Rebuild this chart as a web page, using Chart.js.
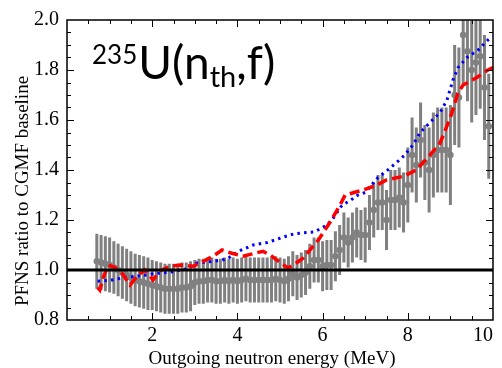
<!DOCTYPE html>
<html>
<head>
<meta charset="utf-8">
<script src="https://cdn.jsdelivr.net/npm/chart.js@4.4.0/dist/chart.umd.min.js"></script>
<style>
  body { margin: 0; background: #fff; }
  canvas { display: block; }
</style>
</head>
<body>
<canvas id="pfnsChart" width="502" height="368"></canvas>
<script>
// measured ratio (gray points with error bars)
const grayX = [0.7, 0.8, 0.9, 1.0, 1.1, 1.2, 1.3, 1.4, 1.5, 1.6, 1.7, 1.8, 1.9,
  2.0, 2.1, 2.2, 2.3, 2.4, 2.5, 2.6, 2.7, 2.8, 2.9,
  3.0, 3.1, 3.2, 3.3, 3.4, 3.5, 3.6, 3.7, 3.8, 3.9,
  4.0, 4.1, 4.2, 4.3, 4.4, 4.5, 4.6, 4.7, 4.8, 4.9,
  5.0, 5.1, 5.2, 5.3, 5.4, 5.5, 5.6, 5.7, 5.8, 5.9,
  6.0, 6.1, 6.2, 6.3, 6.4, 6.5, 6.6, 6.7, 6.8, 6.9,
  7.0, 7.1, 7.2, 7.3, 7.4, 7.5, 7.6, 7.7, 7.8, 7.9,
  8.0, 8.1, 8.2, 8.3, 8.4, 8.5, 8.6, 8.7, 8.8, 8.9,
  9.0, 9.1, 9.2, 9.3, 9.4, 9.5, 9.6, 9.7, 9.8, 9.9];
const grayY = [1.035, 1.03, 1.025, 1.02, 1.01, 1.0, 0.99, 0.98, 0.97, 0.96, 0.955, 0.95, 0.945,
  0.94, 0.935, 0.93, 0.925, 0.925, 0.925, 0.925, 0.93, 0.93, 0.935,
  0.95, 0.955, 0.955, 0.96, 0.96, 0.955, 0.955, 0.96, 0.955, 0.96,
  0.955, 0.96, 0.965, 0.96, 0.96, 0.96, 0.96, 0.96, 0.96, 0.965,
  0.96, 0.955, 0.965, 0.985, 0.97, 0.98, 0.99, 1.015, 1.04, 1.04,
  1.015, 1.02, 1.02, 1.055, 1.08, 1.13, 1.11, 1.13, 1.15, 1.14,
  1.14, 1.19, 1.24, 1.27, 1.27, 1.20, 1.28, 1.28, 1.29, 1.27,
  1.34, 1.46, 1.42, 1.52, 1.43, 1.40, 1.46, 1.48, 1.48, 1.48,
  1.46, 1.70, 1.69, 1.94, 1.875, 1.80, 1.83, 1.855, 1.73, 1.575];
const grayErr = [0.11, 0.11, 0.11, 0.11, 0.105, 0.105, 0.105, 0.105, 0.105, 0.105, 0.105, 0.105, 0.105,
  0.10, 0.10, 0.10, 0.10, 0.10, 0.10, 0.10, 0.10, 0.10, 0.10,
  0.09, 0.09, 0.09, 0.09, 0.09, 0.09, 0.09, 0.09, 0.09, 0.09,
  0.09, 0.09, 0.09, 0.09, 0.09, 0.09, 0.09, 0.09, 0.09, 0.09,
  0.09, 0.09, 0.09, 0.09, 0.09, 0.09, 0.09, 0.09, 0.09, 0.09,
  0.10, 0.10, 0.10, 0.10, 0.10, 0.10, 0.10, 0.10, 0.10, 0.10,
  0.11, 0.11, 0.11, 0.11, 0.11, 0.12, 0.12, 0.12, 0.12, 0.12,
  0.15, 0.15, 0.15, 0.15, 0.15, 0.17, 0.17, 0.17, 0.17, 0.17,
  0.20, 0.20, 0.20, 0.20, 0.20, 0.21, 0.21, 0.21, 0.21, 0.21];

// red dashed curve
const redX = [0.72, 0.77, 0.85, 0.97, 1.13, 1.3, 1.48, 1.67, 1.83, 2.02, 2.18, 2.42, 2.65, 2.96,
  3.2, 3.43, 3.64, 3.87, 4.13, 4.6, 4.77, 5.0, 5.19, 5.4, 5.54, 5.9, 6.17, 6.41, 6.53,
  6.95, 7.28, 7.5, 7.9, 8.2, 8.47, 8.75, 9.0, 9.18, 9.3, 9.62, 9.88, 10.0];
const redY = [0.93, 0.92, 0.97, 1.02, 1.01, 0.985, 0.94, 0.98, 1.0, 0.96, 0.996, 1.015, 1.02, 1.015,
  1.035, 1.055, 1.08, 1.067, 1.055, 1.075, 1.06, 1.03, 1.008, 1.03, 1.047, 1.12, 1.19, 1.26, 1.30,
  1.32, 1.34, 1.36, 1.375, 1.40, 1.45, 1.505, 1.61, 1.71, 1.74, 1.77, 1.80, 1.81];

// blue dotted curve
const blueX = [0.72, 1.06, 1.2, 1.36, 1.53, 1.71, 1.88, 2.02, 2.35, 2.5, 2.65, 2.8, 3.05, 3.43,
  3.64, 3.78, 4.03, 4.37, 4.7, 5.0, 5.23, 5.35, 5.82, 6.1, 6.24, 6.46, 6.64, 6.83, 7.0,
  7.3, 7.53, 7.77, 7.93, 8.12, 8.29, 8.52, 8.76, 8.92, 9.06, 9.18, 9.39, 9.65, 9.88, 9.95];
const blueY = [0.955, 0.96, 0.965, 0.97, 0.973, 0.977, 0.98, 0.985, 0.99, 0.993, 1.0, 1.004, 1.028, 1.035,
  1.04, 1.047, 1.075, 1.10, 1.11, 1.127, 1.14, 1.145, 1.153, 1.18, 1.205, 1.26, 1.277, 1.30, 1.31,
  1.37, 1.40, 1.435, 1.46, 1.50, 1.55, 1.59, 1.63, 1.68, 1.76, 1.81, 1.85, 1.88, 1.92, 1.93];

const xTickLabels = [2, 4, 6, 8, 10];
const baselineValue = 1.0;

function toPoints(xs, ys) {
  return xs.map((x, i) => ({ x: x, y: ys[i] }));
}

// vertical error bars, drawn under the datasets
const errorBars = {
  id: "errorBars",
  beforeDatasetsDraw(chart) {
    const ctx = chart.ctx;
    const xs = chart.scales.x, ys = chart.scales.y;
    const a = chart.chartArea;
    ctx.save();
    ctx.beginPath();
    ctx.rect(a.left, a.top, a.right - a.left, a.bottom - a.top);
    ctx.clip();
    ctx.strokeStyle = "#808080";
    ctx.lineWidth = 3;
    for (let i = 0; i < grayX.length; i++) {
      const px = xs.getPixelForValue(grayX[i]);
      ctx.beginPath();
      ctx.moveTo(px, ys.getPixelForValue(grayY[i] - grayErr[i]));
      ctx.lineTo(px, ys.getPixelForValue(grayY[i] + grayErr[i]));
      ctx.stroke();
    }
    ctx.restore();
  },
};

// frame, inward ticks, x labels, axis titles, reaction label
const frameAndText = {
  id: "frameAndText",
  afterDraw(chart) {
    const ctx = chart.ctx;
    const xs = chart.scales.x, ys = chart.scales.y;
    const a = chart.chartArea;
    ctx.save();
    ctx.strokeStyle = "#000";
    ctx.lineWidth = 1.5;
    ctx.strokeRect(a.left, a.top, a.right - a.left, a.bottom - a.top);

    ctx.lineWidth = 1;
    for (let k = 1; k < 20; k++) {
      const v = k * 0.5;
      const px = Math.round(xs.getPixelForValue(v)) + 0.5;
      const len = k % 4 === 0 ? 7 : 4;
      ctx.beginPath();
      ctx.moveTo(px, a.bottom); ctx.lineTo(px, a.bottom - len);
      ctx.moveTo(px, a.top); ctx.lineTo(px, a.top + len);
      ctx.stroke();
    }
    for (let k = 1; k < 24; k++) {
      const v = 0.8 + k * 0.05;
      const py = Math.round(ys.getPixelForValue(v)) + 0.5;
      const len = k % 4 === 0 ? 7 : 4;
      ctx.beginPath();
      ctx.moveTo(a.left, py); ctx.lineTo(a.left + len, py);
      ctx.moveTo(a.right, py); ctx.lineTo(a.right - len, py);
      ctx.stroke();
    }

    ctx.fillStyle = "#000";
    ctx.font = '20px "Liberation Serif"';
    ctx.textBaseline = "alphabetic";
    xTickLabels.forEach((v) => {
      const px = xs.getPixelForValue(v);
      ctx.textAlign = v === 10 ? "right" : "center";
      ctx.fillText(String(v), px, 341);
    });

    ctx.font = '19px "Liberation Serif"';
    ctx.textAlign = "center";
    ctx.fillText("Outgoing neutron energy (MeV)", 272, 364);
    ctx.save();
    ctx.translate(28, 191);
    ctx.rotate(-Math.PI / 2);
    ctx.fillText("PFNS ratio to CGMF baseline", 0, 0);
    ctx.restore();

    // 235U(n_th,f)
    ctx.textAlign = "left";
    let x = 92;
    ctx.font = "26px Lato";
    ctx.fillText("235", x, 64);
    x += ctx.measureText("235").width + 1;
    ctx.font = "46px Lato";
    ctx.fillText("U(n", x, 79);
    x += ctx.measureText("U(n").width;
    ctx.font = "29px Lato";
    ctx.fillText("th", x, 87);
    x += ctx.measureText("th").width;
    ctx.font = "46px Lato";
    ctx.fillText(",f)", x, 79);
    ctx.restore();
  },
};

new Chart(document.getElementById("pfnsChart"), {
  type: "scatter",
  data: {
    datasets: [
      {
        label: "baseline",
        type: "line",
        data: [{ x: 0, y: baselineValue }, { x: 10, y: baselineValue }],
        borderColor: "#000",
        borderWidth: 3,
        pointRadius: 0,
        order: 0,
      },
      {
        label: "red",
        type: "line",
        data: toPoints(redX, redY),
        borderColor: "#ff0000",
        borderWidth: 3.5,
        borderDash: [10, 5],
        pointRadius: 0,
        order: 1,
      },
      {
        label: "blue",
        type: "line",
        data: toPoints(blueX, blueY),
        borderColor: "#0000ff",
        borderWidth: 3,
        borderDash: [2.5, 4.2],
        pointRadius: 0,
        order: 2,
      },
      {
        label: "ratio",
        data: toPoints(grayX, grayY),
        backgroundColor: "#808080",
        borderWidth: 0,
        pointRadius: 3.3,
        order: 3,
      },
    ],
  },
  options: {
    responsive: false,
    animation: false,
    layout: { padding: { top: 14, right: 9, left: 0, bottom: 0 } },
    plugins: { legend: { display: false }, tooltip: { enabled: false } },
    scales: {
      x: {
        type: "linear",
        min: 0,
        max: 10,
        offset: false,
        grid: { display: false, drawTicks: false },
        border: { display: false },
        ticks: { display: false },
        afterFit: (s) => { s.height = 48; },
      },
      y: {
        min: 0.8,
        max: 2.0,
        grid: { display: false, drawTicks: false },
        border: { display: false },
        ticks: {
          stepSize: 0.05,
          autoSkip: false,
          padding: 8,
          color: "#000",
          font: { family: "Liberation Serif", size: 20 },
          callback: (v) => (Math.round(v * 100) % 20 === 0 ? v.toFixed(1) : ""),
        },
        afterFit: (s) => { s.width = 67; },
      },
    },
  },
  plugins: [errorBars, frameAndText],
});
</script>
</body>
</html>
